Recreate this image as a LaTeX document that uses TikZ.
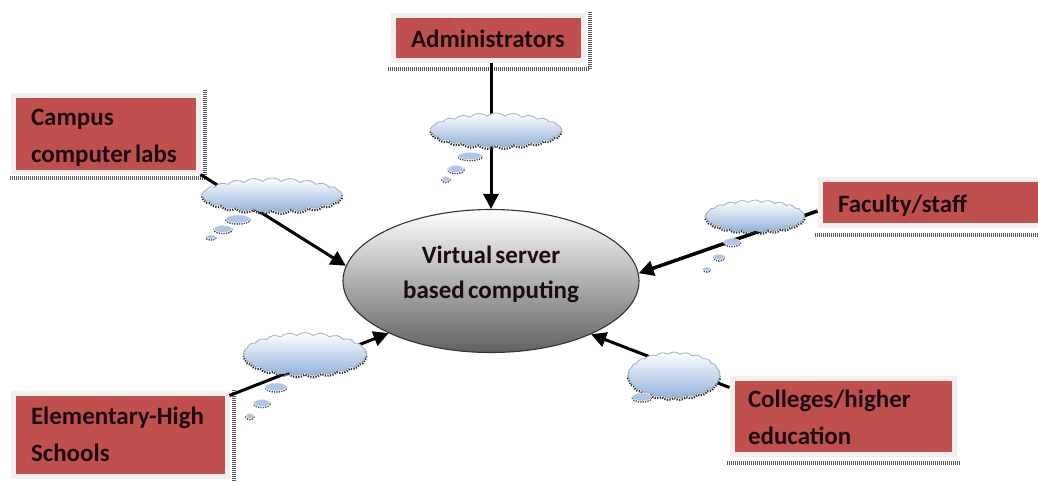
\documentclass[tikz,border=0pt]{standalone}
\usepackage{fontspec}
\setmainfont{Carlito}
\usetikzlibrary{shapes.geometric,shapes.symbols,arrows.meta}
\definecolor{boxred}{HTML}{C0504D}
\definecolor{boxhalo}{HTML}{F4EFEF}
\definecolor{boxink}{HTML}{1C0C12}
\definecolor{cloudblue}{HTML}{94B2DC}
\definecolor{cloudedge}{HTML}{9DB0C2}
\newcommand{\boxfont}{\fontsize{25}{37}\selectfont\bfseries\spaceskip=.13em\relax}
\newcommand{\serverfont}{\fontsize{25}{35}\selectfont\bfseries\spaceskip=.13em\relax}
\newcommand{\toppad}[1]{\vrule width 0pt height #1pt\relax}
\tikzset{
  redbox/.style={rectangle,fill=boxred,draw=boxhalo,line width=5pt,inner xsep=18pt,inner ysep=0pt,
    align=left,text=boxink,font=\boxfont},
  boxshade/.style={draw=black!65,line width=4pt,dash pattern=on 1pt off 1pt},
  server/.style={ellipse,minimum width=296pt,minimum height=143pt,inner sep=0pt,draw=black!80,line width=1.1pt,
    top color=white,middle color=black!11,bottom color=black!62,align=center,text=boxink,
    font=\serverfont},
  bubble/.style={cloud,cloud puffs=23,cloud puff arc=80,cloud ignores aspect,inner sep=0pt,
    draw=cloudedge,line width=.8pt,top color=white,bottom color=cloudblue},
  bubbleshade/.style={cloud,cloud puffs=23,cloud puff arc=80,cloud ignores aspect,inner sep=0pt,
    draw=black!80,line width=2.2pt,dash pattern=on 1.3pt off 1.3pt},
  puff/.style={ellipse,inner sep=0pt,fill=cloudblue!75,draw=white,line width=.3pt},
  puffshade/.style={ellipse,inner sep=0pt,draw=black!75,line width=1.6pt,dash pattern=on 1.2pt off 1.2pt},
  arrowlink/.style={line width=3pt,black,-{Triangle[length=15pt,width=15pt]}}
}
\begin{document}
\begin{tikzpicture}[x=1pt,y=-1pt]
  \clip (0,0) rectangle (1038,482);
  \fill[white] (0,0) rectangle (1038,482);
  % shade of the boxes
  \draw[boxshade] (205,90) -- (205,178) -- (10,178);
  \draw[boxshade] (388,69) -- (590,69) -- (590,12);
  \draw[boxshade] (815,235) -- (1038,235);
  \draw[boxshade] (727,463) -- (960,463);
  \draw[boxshade] (234,390) -- (234,482);
  % boxes
  \node[redbox,minimum width=185pt,minimum height=77pt,text width=149pt] (campus) at (105.5,133.5) {\toppad{25}Campus\\\mbox{\spaceskip=.13em\relax computer labs}};
  \node[redbox,minimum width=190pt,minimum height=45pt,text width=154pt] (admin) at (488,37.5) {\toppad{21}Administrators};
  \node[redbox,minimum width=240pt,minimum height=46pt,text width=204pt] (faculty) at (940,202) {\toppad{25}Faculty/staff};
  \node[redbox,minimum width=222pt,minimum height=76pt,text width=190pt,inner xsep=16pt] (college) at (843,416) {\toppad{21}Colleges/higher\\education};
  \node[redbox,minimum width=214pt,minimum height=83pt,text width=178pt] (school) at (120,434.5) {Elementary-High\\Schools};
  % server
  \node[server] (virt) at (491,281) {Virtual server\\based computing\vrule width 0pt depth 18pt\relax};
  % links
  \draw[arrowlink] (campus.south east) -- (virt.174);
  \draw[arrowlink] (admin.south -| virt.north) -- (virt.north);
  \draw[arrowlink,line width=3.5pt] ([yshift=-9pt]faculty.west) -- (virt.3.5);
  \draw[arrowlink] ([yshift=-12pt]college.north west) -- (virt.-28);
  \draw[arrowlink] ([yshift=-5pt]school.north east) -- (virt.-153);
  % clouds
  \foreach \nm/\x/\y/\w/\h in {cc/272/195/140/34,ca/496/130/131/34,cf/755/216/99/32,ch/674/375/92/46,cs/305/354/123/43}{
    \node[bubbleshade,minimum width=\w pt,minimum height=\h pt] at (\x,\y+2) {};
    \node[bubble,minimum width=\w pt,minimum height=\h pt] (\nm) at (\x,\y) {};
  }
  % small puffs
  \foreach \nm/\x/\y/\w/\h in {p1/238/219/24/8,p2/223/229/18/7,p3/211/237/10/4,
      p4/470/156/24/7,p5/456/169/16/7,p6/446/179/8/5,
      p7/732/242/17/7,p8/719/257/11/6,p9/707/269/7/4,
      p10/642/397/19/8,
      p11/276/387/21/8,p12/262/403/16/7,p13/250/416/8/5}{
    \node[puffshade,minimum width=\w pt,minimum height=\h pt] at (\x,\y+1) {};
    \node[puff,minimum width=\w pt,minimum height=\h pt] (\nm) at (\x,\y) {};
  }
\end{tikzpicture}
\end{document}
